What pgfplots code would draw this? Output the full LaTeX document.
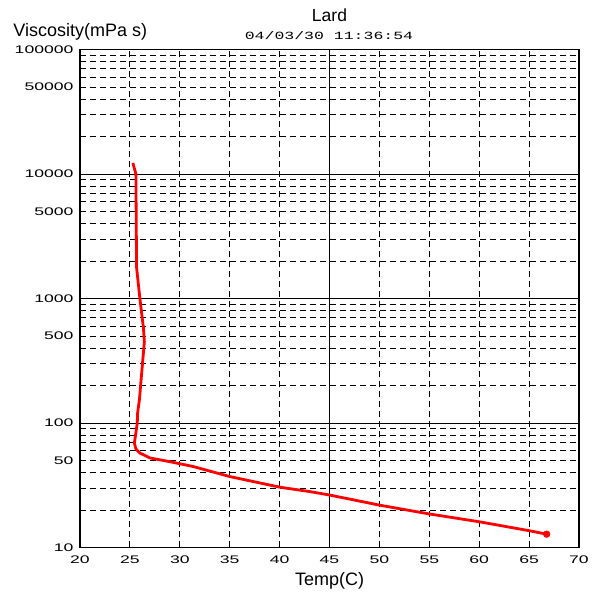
\documentclass[border=0pt]{standalone}
\usepackage{pgfplots}
\pgfplotsset{compat=1.18}
\usepackage{fontspec}
\setmainfont{Liberation Sans}
\newfontfamily\tickfont[FakeStretch=1.6]{Liberation Sans}
\newfontfamily\datefont[FakeStretch=1.5]{Liberation Mono}
\begin{document}
\begin{tikzpicture}[x=1pt,y=1pt]
\path (-80,-46.5) rectangle (514,547.5);
\begin{axis}[
  at={(0,0)}, anchor=south west, scale only axis,
  width=499pt, height=498pt,
  xmin=20, xmax=70, ymin=10, ymax=100000,
  ymode=log, log basis y=10,
  axis line style={black, line width=1.1pt},
  major tick length=0pt, minor tick length=0pt,
  xtick={20,25,30,35,40,50,55,60,65,70},
  extra x ticks={45},
  extra x tick style={grid=major, major grid style={solid, black, line width=0.9pt}},
  ytick={10,50,100,500,1000,5000,10000,50000,100000},
  yticklabels={10,50,100,500,1000,5000,10000,50000,100000},
  minor ytick={20,30,40,50,60,70,80,90,200,300,400,500,600,700,800,900,2000,3000,4000,5000,6000,7000,8000,9000,20000,30000,40000,50000,60000,70000,80000,90000},
  extra y ticks={100,1000,10000},
  extra y tick labels={},
  extra y tick style={grid=major, major grid style={solid, black, line width=0.9pt}},
  xmajorgrids=true, yminorgrids=true,
  major grid style={black, line width=0.8pt, dash pattern=on 6pt off 4pt},
  minor grid style={black, line width=0.8pt, dash pattern=on 6pt off 4pt},
  /pgf/number format/assume math mode=true,
  xticklabel style={font=\tickfont\fontsize{11}{13}\selectfont, yshift=-5pt},
  yticklabel style={font=\tickfont\fontsize{11}{13}\selectfont, anchor=east, xshift=-3pt},
]
\addplot[red, line width=2.8pt, line join=round] coordinates {
(25.3,12250) (25.6,10000) (25.67,1775) (26.0,1000) (26.35,585) (26.45,450)
(26.3,326) (25.95,153) (25.77,120) (25.74,100) (25.45,69) (25.6,62)
(26.0,57.4) (27.0,52.4) (29.0,48.9) (31.35,44.7) (35.03,37.1) (40.04,30.5)
(43.05,28.1) (45,26.4) (50,21.9) (55,18.6) (60,16.1) (65,13.65) (66.76,12.8)
};
\addplot[red, only marks, mark=*, mark size=3.4pt] coordinates {(66.76,12.8)};
\end{axis}
\node[anchor=base west, inner sep=0, font=\fontsize{18}{20}\selectfont] at (-66.7,510.8) {Viscosity(mPa s)};
\node[anchor=base, inner sep=0, font=\fontsize{17.5}{20}\selectfont] at (249.5,525.8) {Lard};
\node[anchor=base, inner sep=0, font=\datefont\fontsize{11}{13}\selectfont] at (249,508.2) {04/03/30 11:36:54};
\node[anchor=base, inner sep=0, font=\fontsize{18}{20}\selectfont] at (249.5,-37.5) {Temp(C)};
\end{tikzpicture}
\end{document}
